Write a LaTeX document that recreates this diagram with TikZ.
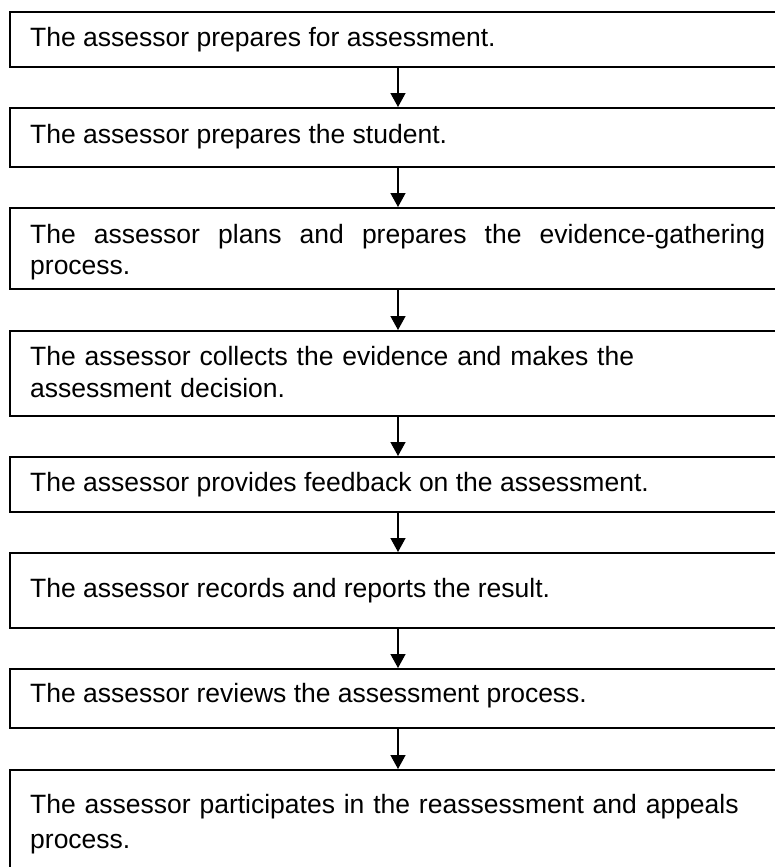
\documentclass[tikz,border=0pt]{standalone}
\usepackage{fontspec}
\setmainfont{Liberation Sans}
\usetikzlibrary{arrows.meta}
\tikzset{
  box/.style={draw=black, line width=2pt, minimum width=776pt, anchor=north west, inner sep=0pt},
  txt/.style={inner sep=0pt, anchor=base west, font=\fontsize{26.5}{31}\selectfont},
  mtxt/.style={txt, text width=735pt, align=left},
  arr/.style={draw=black, line width=1.4pt, -{Triangle[length=14pt,width=15pt]}}
}
\begin{document}
\begin{tikzpicture}[x=1pt,y=-1pt]
\clip (0,0) rectangle (775,867);
\fill[white] (0,0) rectangle (775,867);
% boxes
\node[box, minimum height=55pt] (b1) at (9,11) {};
\node[box, minimum height=59pt] (b2) at (9,107) {};
\node[box, minimum height=81pt] (b3) at (9,207) {};
\node[box, minimum height=85pt] (b4) at (9,330) {};
\node[box, minimum height=55pt] (b5) at (9,456) {};
\node[box, minimum height=75pt] (b6) at (9,552) {};
\node[box, minimum height=59pt] (b7) at (9,668) {};
\node[box, minimum height=130pt] (b8) at (9,769) {};
% texts
\node[txt] (t1) at (30,47) {The assessor prepares for assessment.};
\node[txt] (t2) at (30,143) {The assessor prepares the student.};
\node[mtxt] (t3) at (30,243) {\makebox[735pt][s]{The \hfill assessor \hfill plans \hfill and \hfill prepares \hfill the \hfill evidence-gathering}\\process.};
\node[mtxt, font=\fontsize{26.5}{32}\selectfont] (t4) at (30,365) {The assessor collects the evidence and makes the\\assessment decision.};
\node[txt] (t5) at (30,491) {The assessor provides feedback on the assessment.};
\node[txt] (t6) at (30,597) {The assessor records and reports the result.};
\node[txt] (t7) at (30,702) {The assessor reviews the assessment process.};
\node[mtxt, font=\fontsize{26.5}{35}\selectfont] (t8) at (30,813) {The assessor participates in the reassessment and appeals\\process.};
% arrows
\draw[arr] (b1.south) -- (b2.north);
\draw[arr] (b2.south) -- (b3.north);
\draw[arr] (b3.south) -- (b4.north);
\draw[arr] (b4.south) -- (b5.north);
\draw[arr] (b5.south) -- (b6.north);
\draw[arr] (b6.south) -- (b7.north);
\draw[arr] (b7.south) -- (b8.north);
\end{tikzpicture}
\end{document}
